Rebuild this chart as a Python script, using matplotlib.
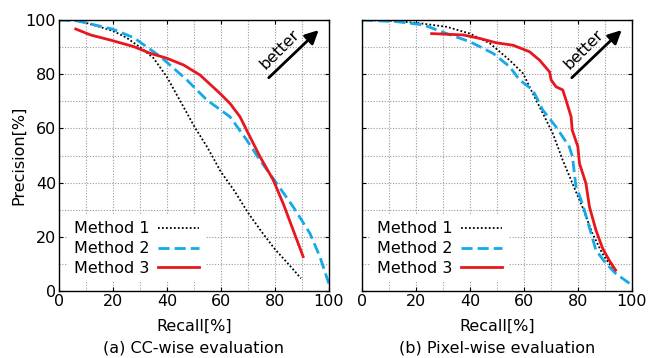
import matplotlib.pyplot as plt

plt.rcParams['font.family'] = 'DejaVu Sans'
plt.rcParams['font.size'] = 11.5

# (a) CC-wise evaluation
cc_m1_recall = [0, 5, 10, 15, 20, 25, 30, 35, 40, 45, 50, 55, 60, 65, 70, 75, 80, 85, 89.7]
cc_m1_prec = [100, 100, 99, 97.5, 96, 93.5, 90, 86, 79, 70, 61, 53, 44, 37, 29, 22, 15.5, 10, 4.7]
cc_m2_recall = [0, 6.8, 15.4, 20, 27.7, 37.6, 47.4, 54.8, 63.4, 69.6, 74.5, 80.7, 86.8, 93, 96.7, 100]
cc_m2_prec = [100, 99.7, 97.7, 96.6, 93.5, 86.5, 77.9, 70.5, 64.3, 55.7, 48.3, 39.7, 31.1, 21.3, 12.7, 2.8]
cc_m3_recall = [6.2, 11.7, 19.1, 27.7, 33.9, 40, 46.2, 52.3, 59.7, 63.4, 67.1, 70.8, 74.5, 79.4, 83.1, 86.8, 90.5]
cc_m3_prec = [96.7, 94.5, 92.6, 90.2, 87.7, 85.9, 83.4, 79.7, 72.9, 69.2, 64.3, 56.9, 49.6, 41, 32.3, 22.5, 12.7]

# (b) Pixel-wise evaluation
px_m1_recall = [0, 12, 21.5, 31.4, 40, 47.4, 54.7, 59.7, 63.3, 67, 70.7, 74.4, 78, 81.7, 85.4, 89, 94]
px_m1_prec = [100, 99.7, 98.8, 97.5, 95, 91.4, 85.2, 80.3, 72.9, 65.6, 58.2, 48.3, 39.7, 31, 21.3, 14, 6.5]
px_m2_recall = [0, 12.9, 22.8, 31.4, 40, 48.6, 54.7, 58.4, 63.3, 67, 71.9, 76.8, 78, 79.3, 81.7, 84.2, 86.7, 90.4, 94, 100]
px_m2_prec = [100, 99.4, 98.2, 95, 92, 87.7, 82.8, 77.9, 74.2, 66.8, 60.6, 53.3, 49.6, 38.5, 32.3, 23.7, 15.1, 10.2, 6.5, 2.2]
px_m3_recall = [25.8, 37.5, 43.7, 49.8, 56, 62.1, 65.8, 69.5, 70.1, 71.9, 74.4, 75.6, 77.5, 77.9, 80, 80.6, 83, 84.3, 86.7, 89.2, 91.6, 94]
px_m3_prec = [95, 94.5, 93.2, 91.6, 90.7, 88.3, 85.2, 80.9, 77.9, 75.4, 74.2, 70.5, 64.3, 59.4, 53.3, 47.1, 39.7, 31.1, 22.5, 15.7, 11.4, 7.7]

labels = ["Method 1", "Method 2", "Method 3"]
captions = ["(a) CC-wise evaluation", "(b) Pixel-wise evaluation"]


def draw_panel(ax, data, caption, show_ylabel):
    (r1, p1), (r2, p2), (r3, p3) = data
    ax.plot(r1, p1, color='black', linestyle=(0, (1, 1.2)), lw=1.3, label=labels[0])
    ax.plot(r2, p2, color='#14a9e8', linestyle=(0, (4, 1.8)), lw=2, label=labels[1])
    ax.plot(r3, p3, color='#e8161e', linestyle='-', lw=2, label=labels[2])
    ax.set_xlim(0, 100)
    ax.set_ylim(0, 100)
    ax.set_xticks(range(0, 101, 20))
    ax.set_yticks(range(0, 101, 20))
    ax.set_xticks(range(0, 101, 10), minor=True)
    ax.set_yticks(range(0, 101, 10), minor=True)
    ax.grid(which='both', color='#9a9a9a', linestyle=(0, (1, 1.5)), lw=0.8)
    ax.tick_params(which='both', direction='in', top=True, right=True, length=3, labelsize=11.5, pad=2)
    ax.tick_params(which='minor', length=0)
    if not show_ylabel:
        ax.set_yticklabels([])
    else:
        ax.set_ylabel("Precision[%]", fontsize=11.5)
        ax.yaxis.set_label_coords(-0.15, 0.5)
        ax.yaxis.label.set_va('center')
    ax.set_xlabel("Recall[%]", fontsize=11.5)
    ax.xaxis.set_label_coords(0.5, -0.13)
    ax.xaxis.label.set_va('center')
    for s in ax.spines.values():
        s.set_linewidth(1)
    leg = ax.legend(loc='lower left', markerfirst=False, frameon=True, fontsize=11.5,
                    handlelength=2.6, handletextpad=0.5, labelspacing=0.3,
                    bbox_to_anchor=(0.02, 0.02), borderaxespad=0.2, borderpad=0.4, framealpha=1)
    leg.get_frame().set_edgecolor('none')
    ax.annotate("", xy=(97, 97), xytext=(77, 78),
                arrowprops=dict(arrowstyle='-|>', color='black', lw=2, mutation_scale=20))
    ax.text(82, 89, "better", rotation=45, fontsize=11.5, ha='center', va='center')
    ax.text(0.5, -0.21, caption, transform=ax.transAxes, ha='center', va='center', fontsize=11.5)


fig = plt.figure(figsize=(6.5, 3.58), dpi=100)
ax1 = fig.add_axes([0.0908, 0.187, 0.415, 0.757])
ax2 = fig.add_axes([0.557, 0.187, 0.415, 0.757])
draw_panel(ax1, [(cc_m1_recall, cc_m1_prec), (cc_m2_recall, cc_m2_prec), (cc_m3_recall, cc_m3_prec)],
           captions[0], True)
draw_panel(ax2, [(px_m1_recall, px_m1_prec), (px_m2_recall, px_m2_prec), (px_m3_recall, px_m3_prec)],
           captions[1], False)

plt.savefig("out.png", dpi=100)
